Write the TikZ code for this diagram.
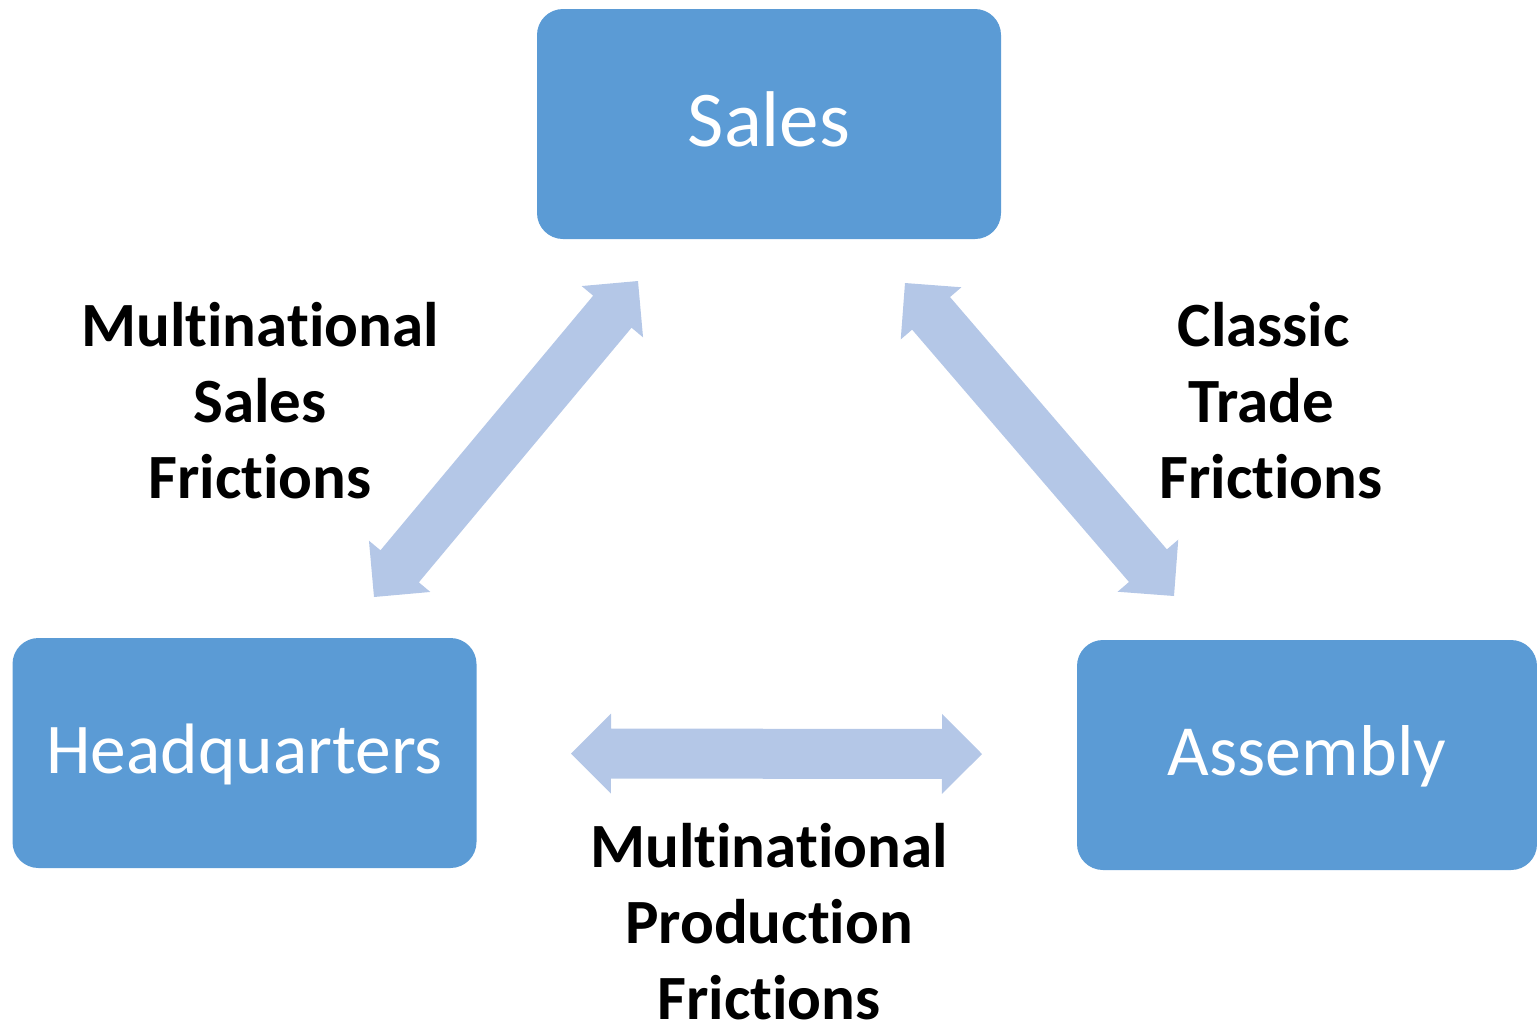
\documentclass[tikz,border=0pt]{standalone}
\usepackage{fontspec}
\setmainfont{Carlito}[Ligatures={NoCommon}, RawFeature=-calt, RawFeature=-clig]
\usetikzlibrary{calc}
\definecolor{boxblue}{HTML}{5B9BD5}
\definecolor{arrowblue}{HTML}{B4C7E7}
\newcommand{\drawbiarrow}[2]{%
  \fill[arrowblue] (#1)
   -- ($(#1)!20pt!(#2)!20pt!90:(#2)$)
   -- ($(#1)!20pt!(#2)!12.5pt!90:(#2)$)
   -- ($(#2)!20pt!(#1)!12.5pt!-90:(#1)$)
   -- ($(#2)!20pt!(#1)!20pt!-90:(#1)$)
   -- (#2)
   -- ($(#2)!20pt!(#1)!20pt!90:(#1)$)
   -- ($(#2)!20pt!(#1)!12.5pt!90:(#1)$)
   -- ($(#1)!20pt!(#2)!12.5pt!-90:(#2)$)
   -- ($(#1)!20pt!(#2)!20pt!-90:(#2)$)
   -- cycle;}
\tikzset{
  box/.style={rectangle, rounded corners=13pt, fill=boxblue, minimum width=232pt,
    minimum height=115pt, inner sep=0pt, text=white},
  lab/.style={align=center, inner sep=0pt, text=black, font=\fontsize{31.5}{38}\selectfont\bfseries}
}
\begin{document}
\begin{tikzpicture}[x=0.5pt, y=-0.5pt]
\useasboundingbox (0,0) rectangle (1537,1030);
\node[box, font=\fontsize{39.5}{46}\selectfont, text height=25.1pt, text depth=3pt] (sales) at (769,124) {Sales};
\node[box, font=\fontsize{35.7}{42}\selectfont, text height=22.7pt, text depth=2.5pt] (hq) at (244.5,753) {Headquarters};
\node[box, minimum width=230pt, font=\fontsize{36}{42}\selectfont, text height=22.9pt, text depth=2pt] (asm) at (1307,755) {Assembly};
\coordinate (a1s) at (638,281);
\coordinate (a1h) at (374,597);
\coordinate (a2s) at (905,283);
\coordinate (a2a) at (1174,596);
\coordinate (a3h) at (571,753.5);
\coordinate (a3a) at (982,754);
\drawbiarrow{a1s}{a1h}
\drawbiarrow{a2s}{a2a}
\drawbiarrow{a3h}{a3a}
\node[lab] (l1) at (260,401) {Multinational\\Sales\\Frictions};
\node[lab] (l2) at (1271,401) {Classic\kern0.23em\\Trade\kern0.3em\\Frictions};
\node[lab] (l3) at (769,922) {Multinational\\Production\\Frictions};
\end{tikzpicture}
\end{document}
